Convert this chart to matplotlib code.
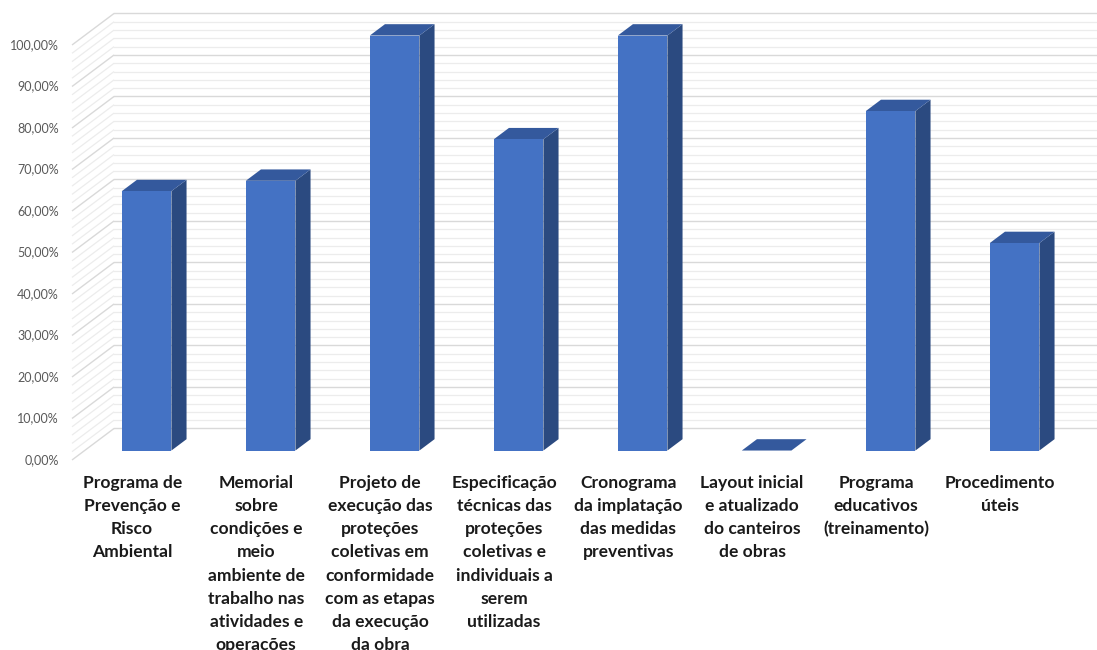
import numpy as np
import matplotlib.pyplot as plt
from matplotlib.patches import Polygon

# ------- данные ---------
categorias = [
    "Programa de\nPrevenção e\nRisco\nAmbiental",
    "Memorial\nsobre\ncondições e\nmeio\nambiente de\ntrabalho nas\natividades e\noperações",
    "Projeto de\nexecução das\nproteções\ncoletivas em\nconformidade\ncom as etapas\nda execução\nda obra",
    "Especificação\ntécnicas das\nproteções\ncoletivas e\nindividuais a\nserem\nutilizadas",
    "Cronograma\nda implatação\ndas medidas\npreventivas",
    "Layout inicial\ne atualizado\ndo canteiros\nde obras",
    "Programa\neducativos\n(treinamento)",
    "Procedimento\núteis",
]
valores = [62.5, 65.0, 100.0, 75.0, 100.0, 0.0, 81.8, 50.0]   # %
y_ticks = [0, 10, 20, 30, 40, 50, 60, 70, 80, 90, 100]
y_tick_labels = ["0,00%", "10,00%", "20,00%", "30,00%", "40,00%", "50,00%",
                 "60,00%", "70,00%", "80,00%", "90,00%", "100,00%"]

# ------- стиль / "3D" ---------
c_front = "#4472c4"
c_top = "#34599d"
c_side = "#2b4a80"
DX, DY = 0.339, 7.6      # глубина стенки (в единицах данных)
f0, f1 = 0.30, 0.66      # передняя / задняя грань столбца по глубине
w = 0.40                 # ширина столбца

fig = plt.figure(figsize=(10.97, 6.5), dpi=100)
ax = fig.add_axes([72 / 1097, 190 / 650, 1025 / 1097, 460 / 650])
ax.set_xlim(-0.5, -0.5 + 1025 / 124)
ax.set_ylim(0, 460 / 4.15)
ax.axis("off")

n = len(categorias)
x = np.arange(n)

# ------- сетка: левая стенка и задняя стенка ---------
for yy in np.arange(0, 101, 2):
    major = (yy % 10 == 0)
    col = "#d9d9d9" if major else "#ececec"
    lw = 1.0 if major else 0.9
    ax.plot([-0.5, -0.5 + DX], [yy, yy + DY], color=col, lw=lw, zorder=1,
            clip_on=False, solid_capstyle="butt")
    ax.plot([-0.5 + DX, n + 1], [yy + DY, yy + DY], color=col, lw=lw,
            zorder=1 if major else 0.5, clip_on=False)

# ------- столбцы ---------
xl = x - w / 2 + f0 * DX
bottom = f0 * DY
bdx, bdy = (f1 - f0) * DX, (f1 - f0) * DY
for xi, v in zip(xl, valores):
    top = bottom + v
    side = Polygon([(xi + w, bottom), (xi + w, top), (xi + w + bdx, top + bdy),
                    (xi + w + bdx, bottom + bdy)], closed=True, facecolor=c_side,
                   edgecolor="none", zorder=3)
    cap = Polygon([(xi, top), (xi + w, top), (xi + w + bdx, top + bdy),
                   (xi + bdx, top + bdy)], closed=True, facecolor=c_top,
                  edgecolor="none", zorder=3)
    ax.add_patch(side)
    ax.add_patch(cap)
ax.bar(xl, valores, width=w, bottom=bottom, align="edge", color=c_front,
       linewidth=0, zorder=4)

# ------- подписи осей ---------
for yy, lab in zip(y_ticks, y_tick_labels):
    ax.text(-0.5 - 13 / 124, yy, lab, ha="right", va="center", fontsize=9,
            color="#595959", family="Lato", clip_on=False)

for xi, lab in zip(x, categorias):
    ax.text(xi - 0.015, -3.6, lab, ha="center", va="top", fontsize=12.6,
            fontweight="bold", family="Lato", color="#1a1a1a",
            linespacing=1.55, clip_on=False)

fig.savefig("out.png", dpi=100, facecolor="white")
